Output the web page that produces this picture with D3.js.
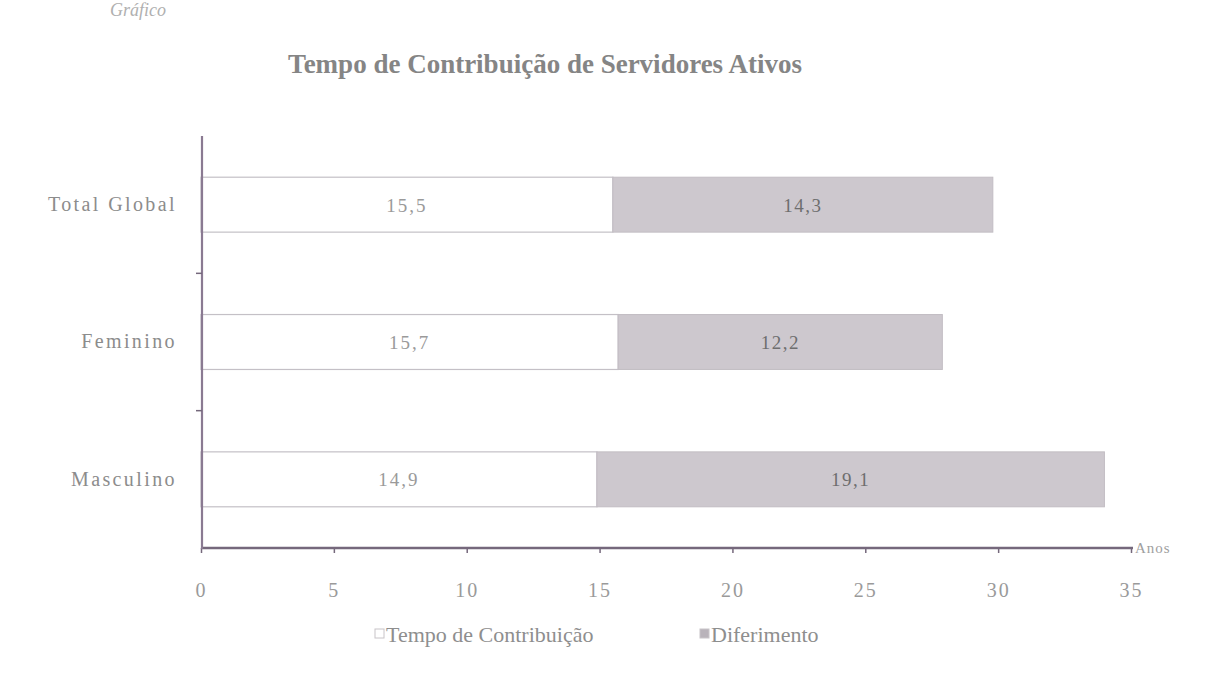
<!DOCTYPE html>
<html>
<head>
<meta charset="utf-8">
<script src="https://cdn.jsdelivr.net/npm/d3@7"></script>
<style>
  body { margin: 0; background: #fff; }
  text { font-family: "Liberation Serif", "DejaVu Serif", serif; }
</style>
</head>
<body>
<div id="chart"></div>
<script>
// data
var categories = ['Total Global', 'Feminino', 'Masculino'];
var tempoContribuicao = [15.5, 15.7, 14.9];
var diferimento = [14.3, 12.2, 19.1];
var seriesNames = ['Tempo de Contribuição', 'Diferimento'];
var xTicks = [0, 5, 10, 15, 20, 25, 30, 35];

var svgWidth = 1208;
var svgHeight = 675;

var svg = d3.select('#chart')
    .append('svg')
    .attr('width', svgWidth)
    .attr('height', svgHeight);

var axisColor = '#75687c';
var textColor = '#8c8c8c';

// scales
var xScale = d3.scaleLinear()
    .domain([0, 35])
    .range([201, 1131]);

var yScale = d3.scaleBand()
    .domain(categories)
    .range([136, 548])
    .paddingInner(0.6)
    .paddingOuter(0.3);

// title
svg.append('text')
    .attr('x', 545)
    .attr('y', 73)
    .attr('text-anchor', 'middle')
    .attr('font-size', '27px')
    .attr('font-weight', 'bold')
    .attr('fill', '#858585')
    .text('Tempo de Contribuição de Servidores Ativos');

// caption at top left (cut in the scan)
svg.append('text')
    .attr('x', 110)
    .attr('y', 16)
    .attr('font-size', '18px')
    .attr('font-style', 'italic')
    .attr('fill', '#b0b0b0')
    .text('Gráfico');

var rows = categories.map(function(c, i) {
    return {cat: c, a: tempoContribuicao[i], b: diferimento[i]};
});

var bandH = yScale.bandwidth();

// first segment: white bar with thin grey edges
svg.selectAll('.segA')
    .data(rows)
    .enter()
    .append('rect')
    .attr('class', 'segA')
    .attr('x', xScale(0))
    .attr('y', d => yScale(d.cat))
    .attr('width', d => xScale(d.a) - xScale(0))
    .attr('height', bandH)
    .attr('fill', '#ffffff')
    .attr('stroke', '#c4c0c6')
    .attr('stroke-width', 1.2);

// second segment: grey
svg.selectAll('.segB')
    .data(rows)
    .enter()
    .append('rect')
    .attr('class', 'segB')
    .attr('x', d => xScale(d.a))
    .attr('y', d => yScale(d.cat))
    .attr('width', d => xScale(d.a + d.b) - xScale(d.a))
    .attr('height', bandH)
    .attr('fill', '#cdc8ce')
    .attr('stroke', '#c2bdc3')
    .attr('stroke-width', 1);

// value labels
svg.selectAll('.labA')
    .data(rows)
    .enter()
    .append('text')
    .attr('x', d => (xScale(0) + xScale(d.a)) / 2)
    .attr('y', d => yScale(d.cat) + bandH / 2 + 7)
    .attr('text-anchor', 'middle')
    .attr('font-size', '19px')
    .attr('letter-spacing', '2px')
    .attr('fill', '#9a9a9a')
    .text(d => d.a.toFixed(1).replace('.', ','));

svg.selectAll('.labB')
    .data(rows)
    .enter()
    .append('text')
    .attr('x', d => (xScale(d.a) + xScale(d.a + d.b)) / 2)
    .attr('y', d => yScale(d.cat) + bandH / 2 + 7)
    .attr('text-anchor', 'middle')
    .attr('font-size', '19px')
    .attr('letter-spacing', '1.5px')
    .attr('fill', '#6e6e6e')
    .text(d => d.b.toFixed(1).replace('.', ','));

// x axis
var bottomAxis = d3.axisBottom(xScale)
    .tickValues(xTicks)
    .tickSize(5)
    .tickPadding(30)
    .tickFormat(d3.format('d'));

var xAxis = svg.append('g')
    .attr('transform', 'translate(0,548)')
    .call(bottomAxis);
xAxis.select('.domain')
    .attr('stroke', axisColor)
    .attr('stroke-width', 2.5)
    .attr('d', 'M' + xScale(0) + ',0H' + (xScale(35) + 2));
xAxis.selectAll('.tick line').attr('stroke', axisColor).attr('stroke-width', 1.5);
xAxis.selectAll('.tick text')
    .attr('fill', '#9a9a9a')
    .attr('font-size', '20px')
    .attr('letter-spacing', '2px')
    .attr('font-family', '"Liberation Serif", serif');

svg.append('text')
    .attr('x', 1135)
    .attr('y', 553)
    .attr('font-size', '15px')
    .attr('letter-spacing', '1px')
    .attr('fill', '#a0a0a0')
    .text('Anos');

// y axis
var leftAxis = d3.axisLeft(yScale)
    .tickSize(0)
    .tickPadding(25);

var yAxis = svg.append('g')
    .attr('transform', 'translate(' + (xScale(0) + 1) + ',0)')
    .call(leftAxis);
yAxis.select('.domain')
    .attr('stroke', '#8a7a92')
    .attr('stroke-width', 2.2)
    .attr('d', 'M0,136V549');
yAxis.selectAll('.tick text')
    .attr('fill', textColor)
    .attr('font-size', '20px')
    .attr('letter-spacing', '2.4px')
    .attr('font-family', '"Liberation Serif", serif');

// small marks at band boundaries on the y axis
var step = yScale.step();
var boundaries = categories.slice(1).map(c => yScale(c) - step * yScale.paddingInner() / 2);
yAxis.selectAll('.bnd')
    .data(boundaries)
    .enter()
    .append('line')
    .attr('x1', -6)
    .attr('x2', 0)
    .attr('y1', d => d)
    .attr('y2', d => d)
    .attr('stroke', axisColor)
    .attr('stroke-width', 1.5);

// legend
var legend = svg.append('g');
var legendX = [375, 700];
var legendFill = ['#ffffff', '#b9b3ba'];
seriesNames.forEach(function(name, i) {
    legend.append('rect')
        .attr('x', legendX[i])
        .attr('y', 629)
        .attr('width', 9)
        .attr('height', 9)
        .attr('fill', legendFill[i])
        .attr('stroke', '#c8c4c8');
    legend.append('text')
        .attr('x', legendX[i] + 11)
        .attr('y', 642)
        .attr('font-size', '22px')
        .attr('fill', '#8e8e8e')
        .text(name);
});
</script>
</body>
</html>
